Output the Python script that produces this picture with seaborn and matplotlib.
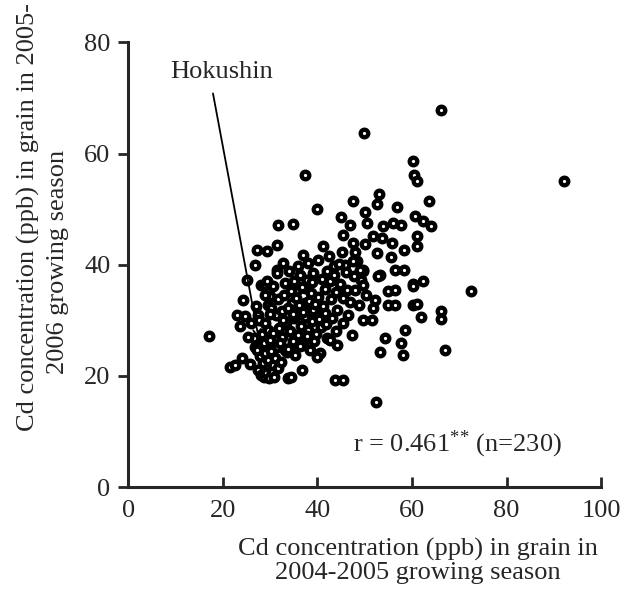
import numpy as np
import pandas as pd
import matplotlib
matplotlib.use("Agg")
import matplotlib.pyplot as plt
import seaborn as sns

# -------------------------------
# Data (Cd in grain, ppb)
# -------------------------------
# readable / isolated points
cd_2004_sparse = [66.1, 49.9, 60.2, 60.5, 61.0, 37.4, 53.0, 52.5, 47.5, 63.5,
                  56.8, 39.9, 44.9, 50.1, 50.4, 46.8, 45.5, 60.7, 62.3, 64.0,
                  55.9, 57.7, 53.8, 61.0, 61.0, 47.6, 50.1, 51.8, 53.6, 55.7,
                  52.5, 55.5, 58.2, 48.0, 48.3, 41.1, 37.0, 56.4, 58.2, 45.8,
                  49.7, 60.3, 62.4, 72.4, 92.2, 53.2, 60.2, 55.0, 56.4, 55.0,
                  56.4, 60.3, 61.1, 66.2, 66.2, 61.9, 58.5, 54.3, 57.6, 58.0,
                  67.0, 53.2, 52.4, 17.1, 43.7, 45.3, 36.7, 33.8, 34.5, 21.5,
                  22.6, 24.0, 25.7, 26.8, 22.9, 23.6, 24.3, 27.0, 25.0, 26.8,
                  27.2, 29.4, 31.5, 31.4, 31.4, 31.7, 34.9, 28.0, 28.9, 30.0,
                  27.4, 27.6, 27.6, 31.4, 33.5, 37.0, 40.6, 42.0, 44.1, 45.4,
                  49.6, 51.7, 48.7, 48.0, 50.3, 52.2, 49.7, 49.3, 49.6, 47.6]
cd_2005_sparse = [67.9, 63.7, 58.7, 56.2, 55.1, 56.1, 52.8, 51.0, 51.4, 51.5,
                  50.4, 50.1, 48.6, 49.4, 47.5, 47.2, 45.3, 48.8, 47.8, 46.9,
                  47.5, 47.1, 46.9, 45.1, 43.4, 43.9, 43.8, 45.1, 44.8, 43.9,
                  42.1, 41.4, 42.7, 42.3, 40.6, 43.3, 41.8, 39.1, 39.1, 40.0,
                  38.8, 36.6, 37.0, 35.3, 55.0, 38.2, 36.2, 35.2, 35.5, 32.7,
                  32.7, 32.7, 33.0, 31.6, 30.3, 30.6, 28.3, 26.8, 26.0, 23.8,
                  24.6, 24.4, 15.3, 27.2, 19.3, 19.3, 21.1, 19.6, 19.9, 21.7,
                  22.0, 23.2, 22.2, 25.3, 31.0, 28.9, 33.7, 32.6, 37.3, 40.0,
                  42.7, 42.4, 43.6, 39.1, 38.5, 47.2, 47.4, 36.4, 36.4, 34.3,
                  31.0, 30.1, 25.3, 25.3, 24.4, 25.6, 24.1, 26.8, 25.6, 29.5,
                  30.1, 32.2, 32.8, 35.5, 34.6, 33.7, 39.1, 37.3, 36.4, 40.6]

# points inside the dense cloud (estimated)
cd_2004_dense = [49.0, 52.7, 43.4, 37.4, 42.7, 45.5, 37.7, 39.9, 44.1, 51.5,
                 42.7, 39.9, 38.4,
                 29.6, 35.6, 34.6, 37.4, 39.1, 29.3, 28.9, 33.1, 34.2,
                 27.5, 28.0, 28.6, 29.2, 29.8, 30.3, 28.4, 29.6, 30.6, 27.9,
                 29.0, 30.1, 28.6, 29.9, 31.0, 31.7, 27.2, 30.8, 32.2, 26.5,
                 28.3, 29.5,
                 30.5, 31.8, 32.6, 33.4, 34.2, 35.0, 35.8, 36.5, 37.3, 38.1,
                 38.8, 39.6, 40.4, 31.2, 32.5, 33.7, 34.8, 36.0, 36.9, 38.2,
                 39.5, 40.8, 41.5, 30.2, 31.6, 33.0, 34.4, 35.5, 36.8, 38.6,
                 32.1, 34.9, 36.2, 37.8, 39.2, 29.0, 30.0, 33.8, 35.3, 32.8,
                 40.2, 41.6, 42.8, 43.9, 44.8, 46.2, 40.9, 42.0, 43.5, 44.6,
                 46.0, 39.0, 38.1, 40.1, 42.5, 45.2, 36.4, 35.1, 37.8, 34.0,
                 33.2, 46.9, 47.7, 41.2,
                 26.0, 25.4, 24.6, 44.0, 46.5, 47.2, 43.0, 41.8, 38.9, 35.9,
                 32.7, 30.6]
cd_2005_dense = [39.1, 37.9, 39.7, 35.8, 37.0, 34.0, 32.5, 32.2, 31.9, 30.1,
                 26.5, 23.5, 24.7,
                 32.8, 35.5, 33.1, 33.1, 31.9, 37.0, 34.6, 24.7, 25.0,
                 21.0, 20.2, 19.8, 20.5, 19.6, 20.8, 22.3, 22.8, 22.0, 23.6,
                 24.1, 24.5, 25.9, 26.4, 23.3, 21.5, 24.7, 19.9, 22.6, 26.8,
                 27.6, 28.2,
                 27.8, 28.6, 27.0, 29.5, 28.1, 30.4, 27.4, 29.0, 30.6, 28.2,
                 29.9, 27.5, 30.2, 30.9, 31.6, 32.3, 31.2, 32.8, 31.5, 33.4,
                 32.9, 28.8, 31.4, 32.3, 33.8, 34.6, 35.2, 34.1, 36.0, 34.9,
                 26.0, 26.3, 25.4, 27.1, 26.2, 29.6, 31.1, 24.9, 23.8, 30.0,
                 34.2, 35.7, 33.9, 35.1, 36.6, 35.4, 37.5, 38.9, 38.1, 40.2,
                 38.7, 38.6, 40.4, 40.9, 41.6, 42.3, 38.2, 37.0, 37.2, 38.9,
                 36.8, 33.3, 37.9, 32.6,
                 29.5, 27.0, 30.8, 28.0, 31.0, 27.4, 30.5, 29.4, 36.9, 39.8,
                 40.3, 36.2]

df = pd.DataFrame({
    "cd_2004_2005": cd_2004_sparse + cd_2004_dense,
    "cd_2005_2006": cd_2005_sparse + cd_2005_dense,
})

hokushin_tip = (27.6, 26.6)
hokushin_text = (19.8, 74.7)
arrow_start = (17.9, 70.8)

# -------------------------------
# Style
# -------------------------------
sns.set_style("ticks")
plt.rcParams["font.family"] = ["Liberation Serif", "DejaVu Serif"]
plt.rcParams["mathtext.fontset"] = "custom"
plt.rcParams["mathtext.rm"] = "Liberation Serif"
plt.rcParams["mathtext.default"] = "regular"
FS = 19

fig = plt.figure(figsize=(6.23, 6.0), dpi=100)
ax = fig.add_axes([0.206, 0.188, 0.759, 0.7415])

sns.scatterplot(data=df, x="cd_2004_2005", y="cd_2005_2006", ax=ax,
                marker="o", s=30, color="white", edgecolor="black",
                linewidth=3.1, zorder=3, legend=False)

ax.set_xlim(0, 100)
ax.set_ylim(0, 80)
ax.set_xticks([0, 20, 40, 60, 80, 100])
ax.set_yticks([0, 20, 40, 60, 80])
sns.despine(ax=ax)
for sp in ["left", "bottom"]:
    ax.spines[sp].set_linewidth(2.2)
ax.tick_params(axis="x", direction="in", length=7, width=2, pad=9, labelsize=FS)
ax.tick_params(axis="y", direction="out", length=7, width=2, pad=6, labelsize=FS)

ax.set_xlabel("Cd concentration (ppb) in grain in\n2004-2005 growing season",
              fontsize=FS, linespacing=1.05)
ax.xaxis.set_label_coords(0.613, -0.115)
ax.xaxis.label.set_va("top")

ax.set_ylabel("")
fig.text(0.045, 1 - 217 / 600, "Cd concentration (ppb) in grain in 2005-",
         rotation=90, ha="center", va="center", fontsize=FS)
fig.text(0.093, 1 - 262 / 600, "2006 growing season",
         rotation=90, ha="center", va="center", fontsize=FS)

ax.text(hokushin_text[0], hokushin_text[1], "Hokushin", fontsize=FS,
        ha="center", va="center")
ax.annotate("", xy=hokushin_tip, xytext=arrow_start,
            arrowprops=dict(arrowstyle="->", lw=1.3, color="black",
                            shrinkA=0, shrinkB=0, mutation_scale=14))

ax.text(47.5, 7.7, r"r = 0.461$^{*}$$^{*}$ (n=230)", fontsize=FS,
        ha="left", va="center")

fig.savefig("out.png", dpi=100)
